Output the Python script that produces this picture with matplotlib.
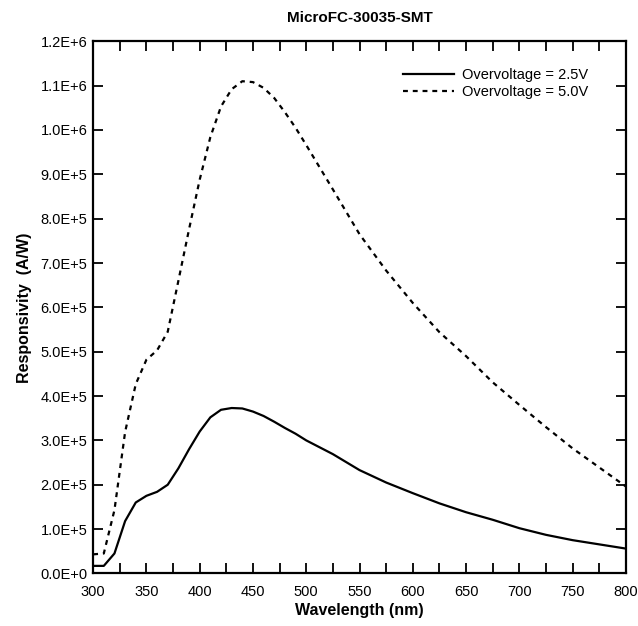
import numpy as np
from matplotlib import pyplot as plt
from matplotlib.ticker import MultipleLocator, FuncFormatter

plt.rcParams['font.family'] = ['Liberation Sans', 'DejaVu Sans']

# длины волн, нм
wl = [300, 310, 320, 330, 340, 350, 360, 370, 380, 390, 400, 410, 420, 430,
      440, 450, 460, 470, 480, 490, 500, 525, 550, 575, 600, 625, 650, 675,
      700, 725, 750, 775, 800]

# чувствительность при 2.5 В
r25 = [0.17e5, 0.17e5, 0.45e5, 1.18e5, 1.60e5, 1.75e5, 1.84e5, 2.00e5, 2.37e5,
       2.80e5, 3.20e5, 3.52e5, 3.69e5, 3.73e5, 3.72e5, 3.65e5, 3.55e5, 3.42e5,
       3.28e5, 3.15e5, 3.00e5, 2.69e5, 2.33e5, 2.05e5, 1.81e5, 1.58e5, 1.38e5,
       1.21e5, 1.02e5, 0.87e5, 0.75e5, 0.655e5, 0.56e5]

# чувствительность при 5.0 В
r50 = [0.43e5, 0.45e5, 1.43e5, 3.19e5, 4.27e5, 4.82e5, 5.03e5, 5.45e5, 6.60e5,
       7.76e5, 8.88e5, 9.84e5, 10.53e5, 10.92e5, 11.10e5, 11.08e5, 10.95e5,
       10.72e5, 10.40e5, 10.05e5, 9.66e5, 8.66e5, 7.65e5, 6.83e5, 6.10e5,
       5.44e5, 4.90e5, 4.31e5, 3.80e5, 3.30e5, 2.82e5, 2.39e5, 1.96e5]

labels = ['Overvoltage = 2.5V', 'Overvoltage = 5.0V']


def sci(v, pos):
    if v == 0:
        return '0.0E+0'
    e = int(np.floor(np.log10(abs(v)) + 1e-9))
    m = v / 10 ** e
    return '%.1fE+%d' % (m, e)


fig = plt.figure(figsize=(6.38, 6.26), dpi=100)
ax = fig.add_axes([0.146, 0.084, 0.835, 0.850])

ax.plot(wl, r25, 'k-', lw=1.6, label=labels[0])
ax.plot(wl, r50, 'k', lw=1.6, dashes=(2.2, 2.2), label=labels[1])

ax.set_xlim(300, 800)
ax.set_ylim(0, 1.2e6)
ax.xaxis.set_major_locator(MultipleLocator(50))
ax.xaxis.set_minor_locator(MultipleLocator(25))
ax.yaxis.set_major_locator(MultipleLocator(1e5))
ax.yaxis.set_major_formatter(FuncFormatter(sci))

ax.tick_params(which='both', direction='in', top=True, right=True,
               width=1.3, labelsize=10.5, length=7)
ax.tick_params(axis='x', which='major', pad=8.5)
ax.tick_params(axis='y', which='major', pad=4)
for s in ax.spines.values():
    s.set_linewidth(1.6)

ax.set_xlabel('Wavelength (nm)', fontsize=11.5, fontweight='bold', labelpad=3)
ax.set_ylabel('Responsivity  (A/W)', fontsize=11.5, fontweight='bold', labelpad=6)
ax.set_title('MicroFC-30035-SMT', fontsize=11, fontweight='bold', pad=14)

ax.legend(loc='upper right', bbox_to_anchor=(0.93, 0.95), frameon=False,
          fontsize=10.5, handlelength=3.5, handletextpad=0.6,
          borderpad=0, borderaxespad=0, labelspacing=0.2)

plt.savefig('out.png', dpi=100)
